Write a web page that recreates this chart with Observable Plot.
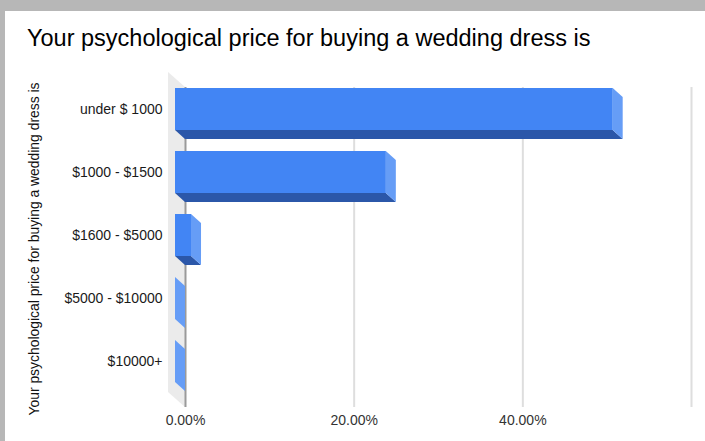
<!DOCTYPE html>
<html><head><meta charset="utf-8">
<script src="https://cdn.jsdelivr.net/npm/d3@7"></script>
<script src="https://cdn.jsdelivr.net/npm/@observablehq/plot@0.6"></script>
<style>
html,body{margin:0;padding:0;width:705px;height:441px;overflow:hidden;background:#b7b7b7;font-family:"Liberation Sans",Arial,sans-serif;}
#card{position:absolute;left:5px;top:11px;width:700px;height:430px;background:#fff;}
#chart{position:absolute;left:0;top:0;}
#title{position:absolute;left:27px;top:25px;font-size:23.5px;color:#000;white-space:nowrap;}
#ytitle{position:absolute;left:34px;top:249px;transform:translate(-50%,-50%) rotate(-90deg);font-size:13.9px;color:#111;white-space:nowrap;}
</style></head><body>
<div id="card"></div>
<div id="chart"></div>
<div id="title"></div>
<div id="ytitle"></div>
<script>
const chartTitle = "Your psychological price for buying a wedding dress is";
const axisTitle = "Your psychological price for buying a wedding dress is";
const categories = ["under $ 1000", "$1000 - $1500", "$1600 - $5000", "$5000 - $10000", "$10000+"];
const shares = [0.519, 0.25, 0.019, 0, 0];
const xTicks = [0, 0.2, 0.4];
const gridTicks = [0.2, 0.4, 0.6];

document.getElementById("title").textContent = chartTitle;
document.getElementById("ytitle").textContent = axisTitle;

const data = categories.map((category, i) => ({category, share: shares[i]}));

const DX = 10, DY = 9;       // bar depth offset (px)
const WX = 17, WY = 15;      // wall depth offset (px)

function wall(index, scales, values, dimensions) {
  const x0 = scales.x(0);
  const top = dimensions.marginTop, bottom = dimensions.height - dimensions.marginBottom;
  const g = d3.create("svg:g");
  g.append("path")
    .attr("d", `M${x0 - WX},${top - WY}L${x0},${top}L${x0},${bottom}L${x0 - WX},${bottom - WY}Z`)
    .attr("fill", "#ebebeb");
  return g.node();
}

function depthFaces(index, scales, values, dimensions) {
  const x = scales.x, y = scales.y;
  const bw = y.bandwidth();
  const x0 = x(0);
  const g = d3.create("svg:g");
  for (const d of data) {
    const xb = x(d.share);
    const yt = y(d.category), yb = yt + bw;
    const fx0 = x0 - DX, fx1 = xb - DX, fyt = yt - DY, fyb = yb - DY;
    if (xb > x0) {
      g.append("path")
        .attr("d", `M${fx0},${fyb}L${fx1},${fyb}L${xb},${yb}L${x0},${yb}Z`)
        .attr("fill", "#2b57a9");
    }
    g.append("path")
      .attr("d", `M${fx1},${fyt}L${xb},${yt}L${xb},${yb}L${fx1},${fyb}Z`)
      .attr("fill", "#669df6");
  }
  return g.node();
}

const chart = Plot.plot({
  width: 705,
  height: 441,
  marginLeft: 185,
  marginRight: 14,
  marginTop: 87,
  marginBottom: 34,
  style: {fontFamily: "'Liberation Sans', Arial, sans-serif", background: "transparent", overflow: "visible"},
  x: {type: "linear", domain: [0, 0.6], nice: false},
  y: {domain: categories, paddingInner: 0.34, paddingOuter: 0.2, align: 0.37},
  marks: [
    wall,
    Plot.ruleX(gridTicks, {stroke: "#dedede", strokeWidth: 2}),
    Plot.ruleX([0], {stroke: "#9a9a9a", strokeWidth: 2}),
    depthFaces,
    Plot.barX(data, {x: "share", y: "category", fill: "#4285f4", dx: -DX, dy: -DY}),
    Plot.axisY({tickSize: 0, tickPadding: 23, dy: -DY, fontSize: 14, fill: "#1a1a1a", label: null}),
    Plot.axisX({ticks: xTicks, tickFormat: d3.format(".2%"), tickSize: 0, tickPadding: 8, fontSize: 14, fill: "#333", label: null})
  ]
});
document.getElementById("chart").appendChild(chart);
</script>
</body></html>
